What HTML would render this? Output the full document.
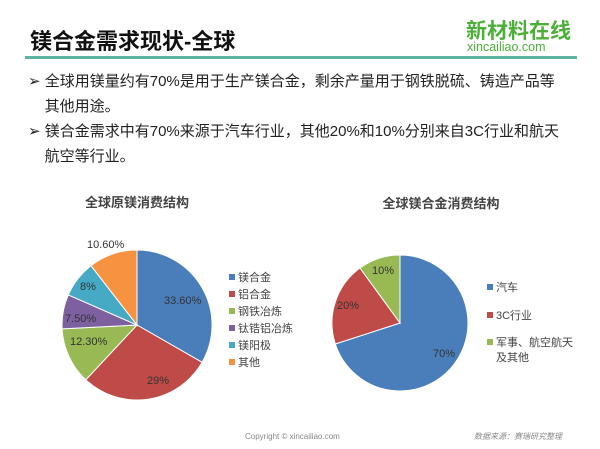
<!DOCTYPE html>
<html><head><meta charset="utf-8"><style>
body{margin:0;width:600px;height:449px;background:#fff;overflow:hidden;font-family:"Liberation Sans","Noto Sans CJK SC",sans-serif;position:relative;color:#222}
.t{position:absolute;white-space:nowrap}
</style></head><body>
<div class="t" style="left:30px;top:24px;font-size:22px;font-weight:bold;color:#111">镁合金需求现状-全球</div>
<div class="t" style="left:466px;top:15px;font-size:21px;font-weight:bold;color:#4caf3a;letter-spacing:0px">新材料在线</div>
<div class="t" style="left:467px;top:40px;font-size:12.5px;color:#4caf3a">xincailiao.com</div>
<div style="position:absolute;left:25px;top:56px;width:552px;height:3px;background:#5bb3a0"></div>
<div class="t" style="left:28px;top:69px;font-size:15px;line-height:25px">➢ 全球用镁量约有70%是用于生产镁合金，剩余产量用于钢铁脱硫、铸造产品等<br>&nbsp;&nbsp;&nbsp;&nbsp;其他用途。<br>➢ 镁合金需求中有70%来源于汽车行业，其他20%和10%分别来自3C行业和航天<br>&nbsp;&nbsp;&nbsp;&nbsp;航空等行业。</div>
<svg width="600" height="449" style="position:absolute;left:0;top:0" font-family="Liberation Sans, Noto Sans CJK SC, sans-serif">
<text x="137" y="207" font-size="13" font-weight="bold" text-anchor="middle" fill="#444">全球原镁消费结构</text>
<g stroke="#fff" stroke-width="1">
<path d="M137,325 L137,250 A75,75 0 0 1 202.1,362.3Z" fill="#4a7ebb"/>
<path d="M137,325 L202.1,362.3 A75,75 0 0 1 85.8,379.8Z" fill="#be4b48"/>
<path d="M137,325 L85.8,379.8 A75,75 0 0 1 62.1,328.9Z" fill="#98b954"/>
<path d="M137,325 L62.1,328.9 A75,75 0 0 1 68.3,294.9Z" fill="#7d60a0"/>
<path d="M137,325 L68.3,294.9 A75,75 0 0 1 91,265.7Z" fill="#46aac5"/>
<path d="M137,325 L91,265.7 A75,75 0 0 1 137,250Z" fill="#f69240"/>
</g>
<g font-size="11" fill="#333">
<text x="164" y="304">33.60%</text><text x="147" y="384">29%</text>
<text x="70" y="345">12.30%</text><text x="65" y="322">7.50%</text>
<text x="80" y="290">8%</text><text x="87" y="248">10.60%</text>
</g>
<g font-size="11" fill="#444">
<rect x="229" y="274" width="6" height="6" fill="#4a7ebb"/><text x="238" y="281">镁合金</text>
<rect x="229" y="291" width="6" height="6" fill="#be4b48"/><text x="238" y="298">铝合金</text>
<rect x="229" y="308" width="6" height="6" fill="#98b954"/><text x="238" y="315">钢铁冶炼</text>
<rect x="229" y="325" width="6" height="6" fill="#7d60a0"/><text x="238" y="332">钛锆铝冶炼</text>
<rect x="229" y="342" width="6" height="6" fill="#46aac5"/><text x="238" y="349">镁阳极</text>
<rect x="229" y="359" width="6" height="6" fill="#f69240"/><text x="238" y="366">其他</text>
</g>
<text x="441" y="208" font-size="13" font-weight="bold" text-anchor="middle" fill="#444">全球镁合金消费结构</text>
<g stroke="#fff" stroke-width="1">
<path d="M400,323 L400,255 A68,68 0 1 1 335.3,344Z" fill="#4a7ebb"/>
<path d="M400,323 L335.3,344 A68,68 0 0 1 360,268Z" fill="#be4b48"/>
<path d="M400,323 L360,268 A68,68 0 0 1 400,255Z" fill="#98b954"/>
</g>
<g font-size="11" fill="#333">
<text x="372" y="274">10%</text><text x="337" y="309">20%</text><text x="433" y="357">70%</text>
</g>
<g font-size="11" fill="#444">
<rect x="487" y="284" width="6" height="6" fill="#4a7ebb"/><text x="496" y="291">汽车</text>
<rect x="487" y="312" width="6" height="6" fill="#be4b48"/><text x="496" y="319">3C行业</text>
<rect x="487" y="339" width="6" height="6" fill="#98b954"/><text x="496" y="346">军事、航空航天</text><text x="496" y="361">及其他</text>
</g>
<text x="245" y="439" font-size="8" fill="#888">Copyright © xincailiao.com</text>
<text x="562" y="439" font-size="8" font-style="italic" fill="#888" text-anchor="end">数据来源：赛瑞研究整理</text>
</svg>
</body></html>
